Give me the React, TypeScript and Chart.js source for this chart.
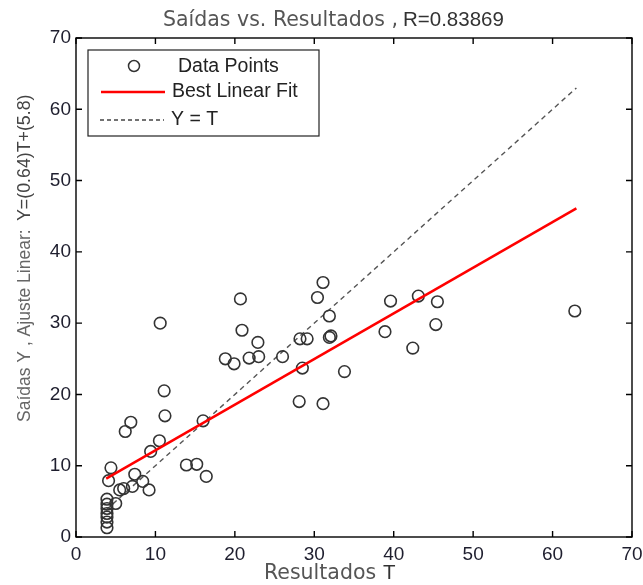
import React, { useEffect, useRef } from "react";
import { Chart, registerables } from "chart.js";

Chart.register(...registerables);

// Targets (Resultados T) and network outputs (Saídas Y)
const targets = [
  3.9, 3.9, 3.9, 3.9, 3.9, 3.9, 3.9, 4.1, 4.4, 5.0, 5.5, 6.0, 7.1, 7.4, 8.4, 9.2, 9.4, 10.5,
  6.2, 6.9, 11.2, 11.1, 10.6, 13.9, 15.2, 16.4, 16.0, 18.8, 19.9, 21.8, 23.0, 26.0, 20.7, 20.9,
  22.9, 28.2, 29.1, 31.9, 32.1, 28.5, 28.1, 31.1, 33.8, 30.4, 31.1, 31.9, 39.6, 43.1, 45.5,
  38.9, 45.3, 42.4, 62.8,
];
const outputs = [
  1.3, 2.1, 2.8, 3.3, 4.0, 4.6, 5.3, 7.9, 9.7, 4.7, 6.6, 6.8, 7.1, 8.8, 7.8, 6.6, 12.0, 13.5,
  14.8, 16.1, 17.0, 20.5, 30.0, 10.1, 10.2, 8.5, 16.3, 25.0, 24.3, 25.1, 25.3, 25.3, 33.4, 29.0,
  27.3, 27.8, 27.8, 28.0, 28.2, 23.7, 19.0, 18.7, 23.2, 33.6, 35.7, 31.0, 33.1, 33.8, 33.0,
  28.8, 29.8, 26.5, 31.7,
];

// Best linear fit Y=(0.64)T+(5.8), endpoints
const fitT = [3.8, 63];
const fitY = [8.2, 46.1];
// Y = T reference line
const identT = [3.8, 63];
const identY = [3.8, 63];

const axisTicks = [0, 10, 20, 30, 40, 50, 60, 70];

const titleMain = "Saídas vs. Resultados ,";
const titleR = "R=0.83869";
const xTitleMain = "Resultados";
const xTitleVar = "T";
const yTitleMain = "Saídas Y , Ajuste Linear:";
const yTitleFit = "Y=(0.64)T+(5.8)";
const legendLabels = ["Data Points", "Best Linear Fit", "Y = T"];

const GRAY_FONT = "'DejaVu Sans', sans-serif";
const DARK_FONT = "'Liberation Sans', Arial, sans-serif";

const decor = {
  id: "decor",
  afterDatasetsDraw(chart: any) {
    const { ctx, chartArea: a, scales } = chart;
    ctx.save();
    // axes frame
    ctx.strokeStyle = "#000";
    ctx.lineWidth = 1.4;
    ctx.strokeRect(a.left, a.top, a.right - a.left, a.bottom - a.top);
    // inward tick marks on all four sides
    const L = 6;
    ctx.beginPath();
    axisTicks.forEach((v) => {
      const x = scales.x.getPixelForValue(v);
      ctx.moveTo(x, a.bottom);
      ctx.lineTo(x, a.bottom - L);
      ctx.moveTo(x, a.top);
      ctx.lineTo(x, a.top + L);
      const y = scales.y.getPixelForValue(v);
      ctx.moveTo(a.left, y);
      ctx.lineTo(a.left + L, y);
      ctx.moveTo(a.right, y);
      ctx.lineTo(a.right - L, y);
    });
    ctx.stroke();

    // legend box
    const bx = a.left + 12;
    const by = a.top + 12;
    const bw = 231;
    const bh = 86;
    ctx.fillStyle = "#fff";
    ctx.fillRect(bx, by, bw, bh);
    ctx.lineWidth = 1.2;
    ctx.strokeStyle = "#222";
    ctx.strokeRect(bx, by, bw, bh);

    // item 1: circle marker
    ctx.beginPath();
    ctx.lineWidth = 1.5;
    ctx.strokeStyle = "#333";
    ctx.arc(bx + 46, by + 16, 5.5, 0, Math.PI * 2);
    ctx.stroke();
    // item 2: red line
    ctx.beginPath();
    ctx.strokeStyle = "#ff0000";
    ctx.lineWidth = 2.5;
    ctx.moveTo(bx + 13, by + 42);
    ctx.lineTo(bx + 77, by + 42);
    ctx.stroke();
    // item 3: dashed line
    ctx.beginPath();
    ctx.strokeStyle = "#444";
    ctx.lineWidth = 1.4;
    ctx.setLineDash([4, 3]);
    ctx.moveTo(bx + 12, by + 70);
    ctx.lineTo(bx + 76, by + 70);
    ctx.stroke();
    ctx.setLineDash([]);

    ctx.fillStyle = "#222";
    ctx.font = `19.5px ${DARK_FONT}`;
    ctx.textAlign = "left";
    ctx.textBaseline = "middle";
    ctx.fillText(legendLabels[0], bx + 90, by + 17);
    ctx.fillText(legendLabels[1], bx + 84, by + 42);
    ctx.fillText(legendLabels[2], bx + 83, by + 70);
    ctx.restore();
  },
  afterDraw(chart: any) {
    const { ctx } = chart;
    ctx.save();
    ctx.textBaseline = "alphabetic";
    ctx.textAlign = "left";
    // title
    ctx.font = `20.5px ${GRAY_FONT}`;
    ctx.fillStyle = "#555";
    ctx.fillText(titleMain, 163, 26);
    ctx.font = `20.5px ${DARK_FONT}`;
    ctx.fillStyle = "#333";
    ctx.fillText(titleR, 403, 26);

    // x title
    ctx.font = `20.5px ${GRAY_FONT}`;
    ctx.fillStyle = "#555";
    ctx.fillText(xTitleMain, 264, 579);
    ctx.font = `20.5px ${DARK_FONT}`;
    ctx.fillStyle = "#333";
    ctx.fillText(xTitleVar, 383, 579);

    // y title (rotated)
    ctx.translate(30, 422);
    ctx.rotate(-Math.PI / 2);
    ctx.font = `17.5px ${DARK_FONT}`;
    ctx.fillStyle = "#666";
    ctx.fillText(yTitleMain, 0, 0);
    ctx.font = `17.8px ${DARK_FONT}`;
    ctx.fillStyle = "#444";
    ctx.fillText(yTitleFit, 201, 0);
    ctx.restore();
  },
};

export default function App() {
  const ref = useRef<HTMLCanvasElement | null>(null);

  useEffect(() => {
    if (!ref.current) return;
    const points = targets.map((t, i) => ({ x: t, y: outputs[i] }));
    const fit = fitT.map((t, i) => ({ x: t, y: fitY[i] }));
    const ident = identT.map((t, i) => ({ x: t, y: identY[i] }));
    const tickFont = { family: DARK_FONT, size: 19 };

    const chart = new Chart(ref.current, {
      type: "scatter",
      data: {
        datasets: [
          {
            label: legendLabels[0],
            data: points,
            showLine: false,
            pointStyle: "circle",
            pointRadius: 5.8,
            pointBorderWidth: 1.6,
            pointBorderColor: "#333",
            pointBackgroundColor: "rgba(0,0,0,0)",
            order: 2,
          },
          {
            label: legendLabels[1],
            data: fit,
            showLine: true,
            borderColor: "#ff0000",
            borderWidth: 2.5,
            pointRadius: 0,
            order: 1,
          },
          {
            label: legendLabels[2],
            data: ident,
            showLine: true,
            borderColor: "#555",
            borderWidth: 1.4,
            borderDash: [5, 4],
            pointRadius: 0,
            order: 3,
          },
        ],
      },
      options: {
        responsive: false,
        animation: false,
        devicePixelRatio: 1,
        layout: { padding: { left: 0, right: 11, top: 38, bottom: 0 } },
        plugins: {
          legend: { display: false },
          title: { display: false },
          tooltip: { enabled: false },
        },
        scales: {
          x: {
            type: "linear",
            min: 0,
            max: 70,
            ticks: { stepSize: 10, font: tickFont, color: "#1e1e2e", padding: 6, maxRotation: 0 },
            grid: { display: false, drawTicks: false },
            border: { display: false },
            afterFit: (s: any) => {
              s.height = 48;
              s.paddingLeft = 0;
              s.paddingRight = 0;
            },
          },
          y: {
            type: "linear",
            min: 0,
            max: 70,
            ticks: { stepSize: 10, font: tickFont, color: "#1e1e2e", padding: 5 },
            grid: { display: false, drawTicks: false },
            border: { display: false },
            afterFit: (s: any) => {
              s.width = 76;
              s.paddingTop = 0;
              s.paddingBottom = 0;
            },
          },
        },
      },
      plugins: [decor],
    });
    return () => chart.destroy();
  }, []);

  return (
    <div style={{ position: "absolute", left: 0, top: 0, width: 643, height: 585, background: "#fff" }}>
      <canvas ref={ref} width={643} height={585} style={{ display: "block" }} />
    </div>
  );
}
